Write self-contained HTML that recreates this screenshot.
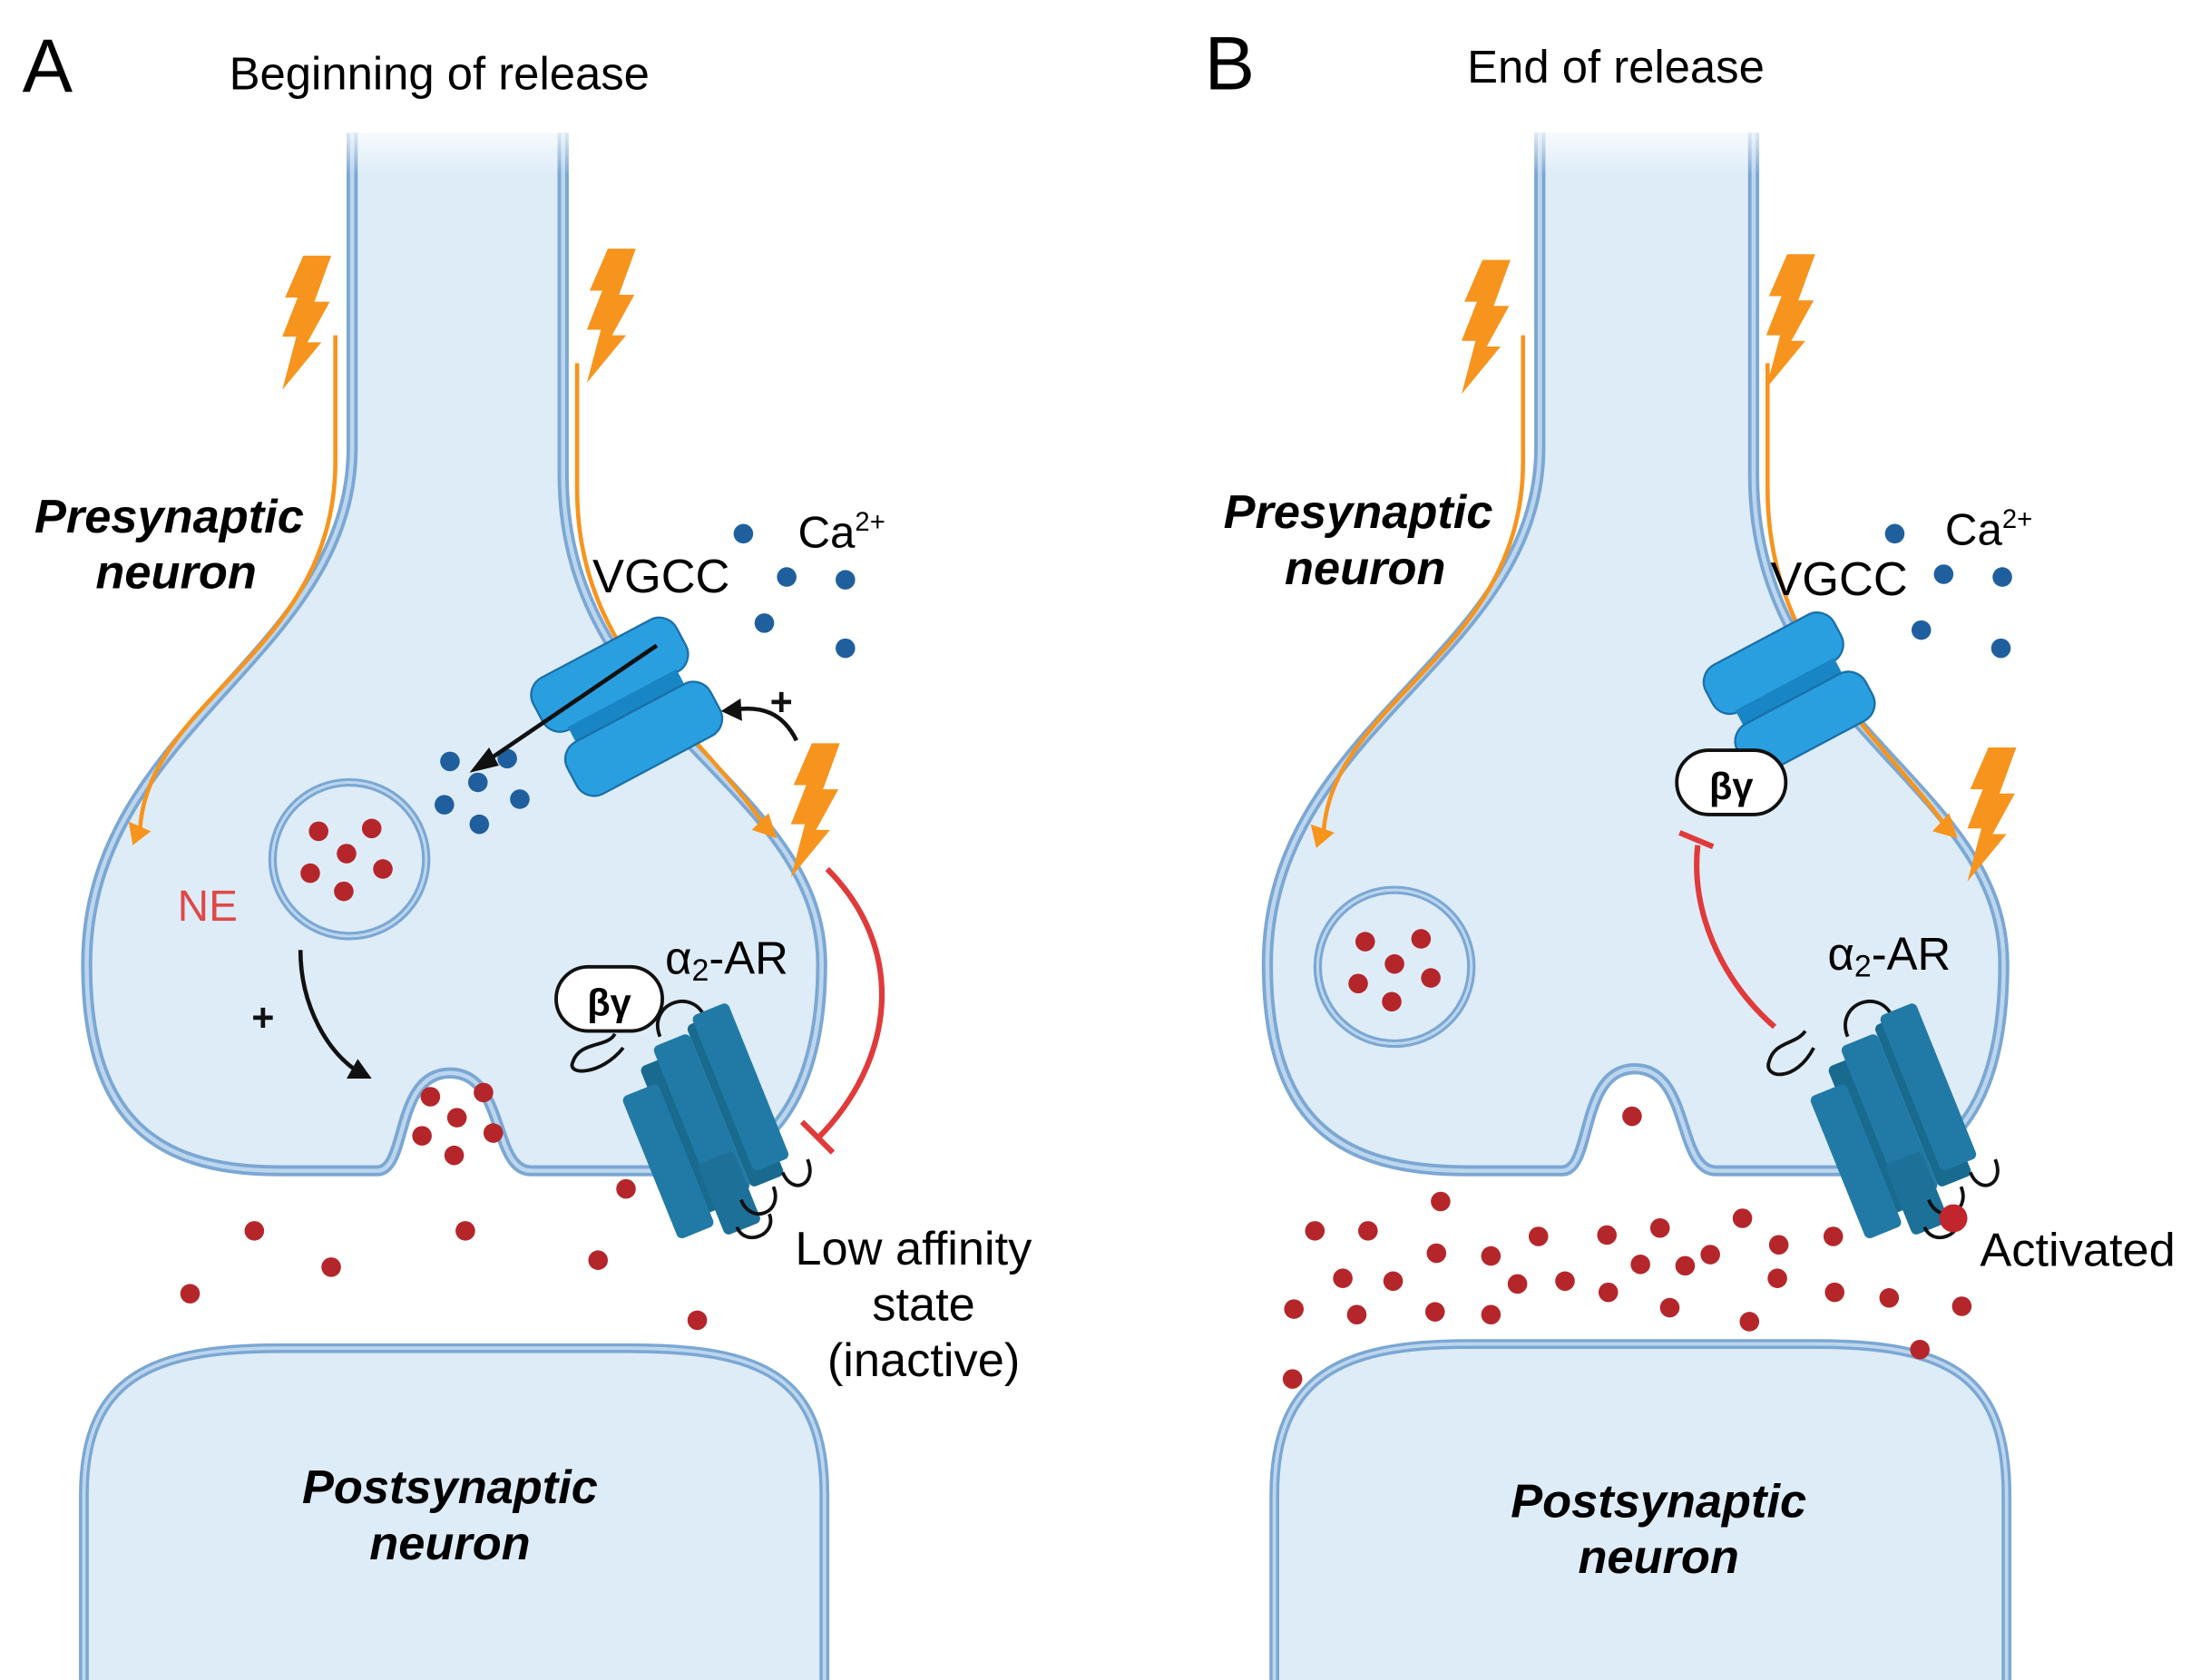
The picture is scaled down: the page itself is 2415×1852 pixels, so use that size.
<!DOCTYPE html>
<html><head><meta charset="utf-8"><style>
html,body{margin:0;padding:0;background:#fff;}
svg{display:block;}
text{font-family:"Liberation Sans",Arial,sans-serif;}
</style></head><body>
<svg width="2415" height="1852" viewBox="0 0 1568 1202.5" xmlns="http://www.w3.org/2000/svg">
<defs>
<polygon id="bolt" points="15,0 35,0 23,33 34,33 18,62 28,62 0,96 10,58 0,58 11,30 2,30" fill="#f7941d"/>
<linearGradient id="fadeA" x1="0" y1="0" x2="0" y2="1"><stop offset="0" stop-color="#fff"/><stop offset="1" stop-color="#fff" stop-opacity="0"/></linearGradient>
<g id="rcp">
 <path d="M-40,-55 C-40,-80 -5,-80 -5,-55" fill="none" stroke="#111" stroke-width="2.5"/>
 <rect x="-62" y="-40" width="26" height="115" rx="4" fill="#186a8f"/>
 <rect x="-20" y="-55" width="26" height="125" rx="4" fill="#186a8f"/>
 <rect x="-82" y="-25" width="28" height="110" rx="4" fill="#217aa5"/>
 <rect x="-48" y="-50" width="28" height="120" rx="4" fill="#217aa5"/>
 <rect x="-14" y="-60" width="28" height="120" rx="4" fill="#217aa5"/>
 <rect x="-50" y="40" width="28" height="55" rx="4" fill="#1d7098"/>
 <path d="M-30,75 C-30,95 -5,95 -5,75 M5,68 C5,86 25,86 25,66 M-40,92 C-40,108 -15,108 -15,92" fill="none" stroke="#111" stroke-width="2.5"/>
</g>
</defs>

<!-- Panel A -->
<path d="M60,1215 L60,1070 C60,985 110,965 200,965 L450,965 C545,965 590,985 590,1070 L590,1215 Z" fill="#deecf8" stroke="#7ba7d3" stroke-width="7"/>
<path d="M60,1215 L60,1070 C60,985 110,965 200,965 L450,965 C545,965 590,985 590,1070 L590,1215" fill="none" stroke="#bcd6ee" stroke-width="2.5"/>
<path d="M252,95 L252,320 C252,470 62,520 62,690 C62,800 110,838 200,838 L270,838 C292,838 282,768 322,768 C362,768 352,838 380,838 L480,838 C560,838 588,770 588,690 C588,560 403,520 403,340 L403,95" fill="#deecf8" stroke="#7ba7d3" stroke-width="8"/>
<path d="M252,95 L252,320 C252,470 62,520 62,690 C62,800 110,838 200,838 L270,838 C292,838 282,768 322,768 C362,768 352,838 380,838 L480,838 C560,838 588,770 588,690 C588,560 403,520 403,340 L403,95" fill="none" stroke="#bcd6ee" stroke-width="3"/>
<rect x="240" y="85" width="180" height="40" fill="url(#fadeA)"/>
<path d="M240,240 L240,330 C240,470 100,500 100,600" fill="none" stroke="#f7941d" stroke-width="3"/>
<polygon points="95,605 92,588 108,595" fill="#f7941d"/>
<path d="M413,260 L413,350 C413,470 500,520 550,595" fill="none" stroke="#f7941d" stroke-width="3"/>
<polygon points="556,600 538,594 550,582" fill="#f7941d"/>
<use href="#bolt" x="202" y="183"/>
<use href="#bolt" x="420" y="178"/>
<use href="#bolt" x="566" y="532"/>
<circle cx="250" cy="615" r="55" fill="#deecf8" stroke="#7ba7d3" stroke-width="6"/>
<circle cx="250" cy="615" r="55" fill="none" stroke="#bcd6ee" stroke-width="2"/>
<g fill="#b5262b">
<circle cx="228" cy="595" r="7"/><circle cx="266" cy="593" r="7"/><circle cx="248" cy="611" r="7"/><circle cx="222" cy="625" r="7"/><circle cx="274" cy="622" r="7"/><circle cx="246" cy="638" r="7"/>
<circle cx="308" cy="785" r="7"/><circle cx="346" cy="782" r="7"/><circle cx="327" cy="800" r="7"/><circle cx="302" cy="813" r="7"/><circle cx="353" cy="811" r="7"/><circle cx="325" cy="827" r="7"/>
<circle cx="182" cy="881" r="7"/><circle cx="237" cy="907" r="7"/><circle cx="333" cy="881" r="7"/><circle cx="136" cy="926" r="7"/><circle cx="428" cy="902" r="7"/><circle cx="448" cy="851" r="7"/><circle cx="499" cy="945" r="7"/>
</g>
<text x="127" y="659" font-size="31" fill="#e04848">NE</text>
<g fill="#1f5f9e">
<circle cx="532" cy="382" r="7"/><circle cx="563" cy="413" r="7"/><circle cx="605" cy="415" r="7"/><circle cx="547" cy="446" r="7"/><circle cx="605" cy="464" r="7"/>
<circle cx="322" cy="545" r="7"/><circle cx="363" cy="543" r="7"/><circle cx="318" cy="576" r="7"/><circle cx="343" cy="590" r="7"/><circle cx="372" cy="572" r="7"/><circle cx="342" cy="560" r="7"/>
</g>
<g transform="translate(448,505) rotate(-28)">
<rect x="-58" y="-46" width="116" height="42" rx="14" fill="#2a9fe0" stroke="#1a6fa8" stroke-width="1.5"/>
<rect x="-44" y="-6" width="88" height="14" fill="#1885c4"/>
<rect x="-58" y="6" width="116" height="42" rx="14" fill="#2a9fe0" stroke="#1a6fa8" stroke-width="1.5"/>
</g>
<line x1="470" y1="462" x2="348" y2="545" stroke="#111" stroke-width="3"/>
<polygon points="336,553 350,535 357,548" fill="#111"/>
<path d="M570,530 C560,510 545,505 525,508" fill="none" stroke="#111" stroke-width="3"/>
<polygon points="516,509 530,500 531,516" fill="#111"/>
<text x="551" y="512" font-size="28" font-weight="bold" fill="#111">+</text>
<path d="M215,680 C215,720 235,755 258,768" fill="none" stroke="#111" stroke-width="3"/>
<polygon points="266,772 248,772 256,758" fill="#111"/>
<text x="180" y="738" font-size="28" font-weight="bold" fill="#111">+</text>
<path d="M592,622 C650,680 640,760 585,815" fill="none" stroke="#e03a3a" stroke-width="4"/>
<line x1="574" y1="803" x2="596" y2="825" stroke="#e03a3a" stroke-width="4"/>
<g transform="translate(530,778) rotate(-22)"><use href="#rcp"/></g>
<path d="M446,750 C430,770 405,770 410,760 C415,745 435,750 440,740" fill="none" stroke="#111" stroke-width="2.5"/>
<rect x="398" y="692" width="76" height="46" rx="23" fill="#fff" stroke="#111" stroke-width="2.5"/>
<text x="436" y="727" font-size="27" font-weight="bold" text-anchor="middle">βγ</text>
<text x="476" y="697" font-size="33">α<tspan font-size="22" dy="5">2</tspan><tspan dy="-5">-AR</tspan></text>
<text x="424" y="424" font-size="34">VGCC</text>
<text x="571" y="392" font-size="32">Ca<tspan font-size="19" dy="-12">2+</tspan></text>
<text x="569" y="905" font-size="34">Low affinity</text>
<text x="661" y="945" font-size="34" text-anchor="middle">state</text>
<text x="661" y="985" font-size="34" text-anchor="middle">(inactive)</text>
<text x="121" y="381" font-size="34" font-weight="bold" font-style="italic" text-anchor="middle">Presynaptic</text>
<text x="126" y="421" font-size="34" font-weight="bold" font-style="italic" text-anchor="middle">neuron</text>
<text x="322" y="1076" font-size="34" font-weight="bold" font-style="italic" text-anchor="middle">Postsynaptic</text>
<text x="322" y="1116" font-size="34" font-weight="bold" font-style="italic" text-anchor="middle">neuron</text>
<text x="16" y="66" font-size="54">A</text>
<text x="164" y="64" font-size="33">Beginning of release</text>

<!-- Panel B -->
<path d="M912,1215 L912,1070 C912,985 960,962 1050,962 L1300,962 C1395,962 1436,985 1436,1070 L1436,1215 Z" fill="#deecf8" stroke="#7ba7d3" stroke-width="7"/>
<path d="M912,1215 L912,1070 C912,985 960,962 1050,962 L1300,962 C1395,962 1436,985 1436,1070 L1436,1215" fill="none" stroke="#bcd6ee" stroke-width="2.5"/>
<path d="M1102,95 L1102,320 C1102,470 907,520 907,690 C907,800 955,838 1050,838 L1118,838 C1140,838 1130,765 1170,765 C1210,765 1200,838 1228,838 L1330,838 C1410,838 1434,770 1434,690 C1434,560 1255,520 1255,340 L1255,95" fill="#deecf8" stroke="#7ba7d3" stroke-width="8"/>
<path d="M1102,95 L1102,320 C1102,470 907,520 907,690 C907,800 955,838 1050,838 L1118,838 C1140,838 1130,765 1170,765 C1210,765 1200,838 1228,838 L1330,838 C1410,838 1434,770 1434,690 C1434,560 1255,520 1255,340 L1255,95" fill="none" stroke="#bcd6ee" stroke-width="3"/>
<rect x="1090" y="85" width="180" height="40" fill="url(#fadeA)"/>
<path d="M1090,240 L1090,330 C1090,470 950,500 947,600" fill="none" stroke="#f7941d" stroke-width="3"/>
<polygon points="942,607 938,590 955,596" fill="#f7941d"/>
<path d="M1265,260 L1265,350 C1265,470 1350,530 1395,595" fill="none" stroke="#f7941d" stroke-width="3"/>
<polygon points="1401,600 1383,595 1395,582" fill="#f7941d"/>
<use href="#bolt" x="1046" y="186"/>
<use href="#bolt" x="1264" y="182"/>
<use href="#bolt" x="1408" y="535"/>
<circle cx="998" cy="692" r="55" fill="#deecf8" stroke="#7ba7d3" stroke-width="6"/>
<circle cx="998" cy="692" r="55" fill="none" stroke="#bcd6ee" stroke-width="2"/>
<g fill="#b5262b">
<circle cx="977" cy="674" r="7"/><circle cx="1017" cy="672" r="7"/><circle cx="998" cy="690" r="7"/><circle cx="972" cy="704" r="7"/><circle cx="1024" cy="700" r="7"/><circle cx="996" cy="717" r="7"/>
<circle cx="1168" cy="799" r="7"/>
<circle cx="1031" cy="860" r="7"/><circle cx="941" cy="881" r="7"/><circle cx="979" cy="881" r="7"/><circle cx="1028" cy="897" r="7"/><circle cx="1067" cy="899" r="7"/><circle cx="1101" cy="885" r="7"/><circle cx="1150" cy="884" r="7"/><circle cx="1188" cy="879" r="7"/><circle cx="1247" cy="872" r="7"/><circle cx="1312" cy="885" r="7"/><circle cx="1273" cy="891" r="7"/>
<circle cx="961" cy="915" r="7"/><circle cx="997" cy="917" r="7"/><circle cx="1086" cy="919" r="7"/><circle cx="1120" cy="917" r="7"/><circle cx="1174" cy="905" r="7"/><circle cx="1206" cy="906" r="7"/><circle cx="1224" cy="898" r="7"/><circle cx="1272" cy="915" r="7"/><circle cx="1313" cy="925" r="7"/><circle cx="1352" cy="929" r="7"/>
<circle cx="926" cy="937" r="7"/><circle cx="971" cy="941" r="7"/><circle cx="1027" cy="939" r="7"/><circle cx="1067" cy="941" r="7"/><circle cx="1151" cy="925" r="7"/><circle cx="1195" cy="936" r="7"/><circle cx="1252" cy="946" r="7"/><circle cx="1404" cy="935" r="7"/><circle cx="1374" cy="966" r="7"/><circle cx="925" cy="987" r="7"/>
</g>
<g fill="#1f5f9e">
<circle cx="1356" cy="382" r="7"/><circle cx="1391" cy="411" r="7"/><circle cx="1433" cy="413" r="7"/><circle cx="1375" cy="451" r="7"/><circle cx="1432" cy="464" r="7"/>
</g>
<g transform="translate(1280,495) rotate(-28)">
<rect x="-52" y="-42" width="104" height="38" rx="14" fill="#2a9fe0" stroke="#1a6fa8" stroke-width="1.5"/>
<rect x="-40" y="-6" width="80" height="14" fill="#1885c4"/>
<rect x="-52" y="6" width="104" height="38" rx="14" fill="#2a9fe0" stroke="#1a6fa8" stroke-width="1.5"/>
</g>
<rect x="1200" y="537" width="78" height="46" rx="23" fill="#fff" stroke="#111" stroke-width="2.5"/>
<text x="1239" y="572" font-size="27" font-weight="bold" text-anchor="middle">βγ</text>
<path d="M1270,735 C1230,700 1210,650 1215,605" fill="none" stroke="#e03a3a" stroke-width="4"/>
<line x1="1202" y1="596" x2="1226" y2="606" stroke="#e03a3a" stroke-width="4"/>
<g transform="translate(1380,778) rotate(-22)"><use href="#rcp"/></g>
<path d="M1298,750 C1285,775 1262,772 1266,760 C1270,745 1285,748 1292,738" fill="none" stroke="#111" stroke-width="2.5"/>
<circle cx="1398" cy="872" r="10" fill="#c0262b"/>
<text x="1308" y="694" font-size="33">α<tspan font-size="22" dy="5">2</tspan><tspan dy="-5">-AR</tspan></text>
<text x="1267" y="426" font-size="34">VGCC</text>
<text x="1392" y="390" font-size="32">Ca<tspan font-size="19" dy="-12">2+</tspan></text>
<text x="1417" y="906" font-size="34">Activated</text>
<text x="972" y="378" font-size="34" font-weight="bold" font-style="italic" text-anchor="middle">Presynaptic</text>
<text x="977" y="418" font-size="34" font-weight="bold" font-style="italic" text-anchor="middle">neuron</text>
<text x="1187" y="1086" font-size="34" font-weight="bold" font-style="italic" text-anchor="middle">Postsynaptic</text>
<text x="1187" y="1126" font-size="34" font-weight="bold" font-style="italic" text-anchor="middle">neuron</text>
<text x="862" y="64" font-size="54">B</text>
<text x="1050" y="59" font-size="33">End of release</text>
</svg>
</body></html>
